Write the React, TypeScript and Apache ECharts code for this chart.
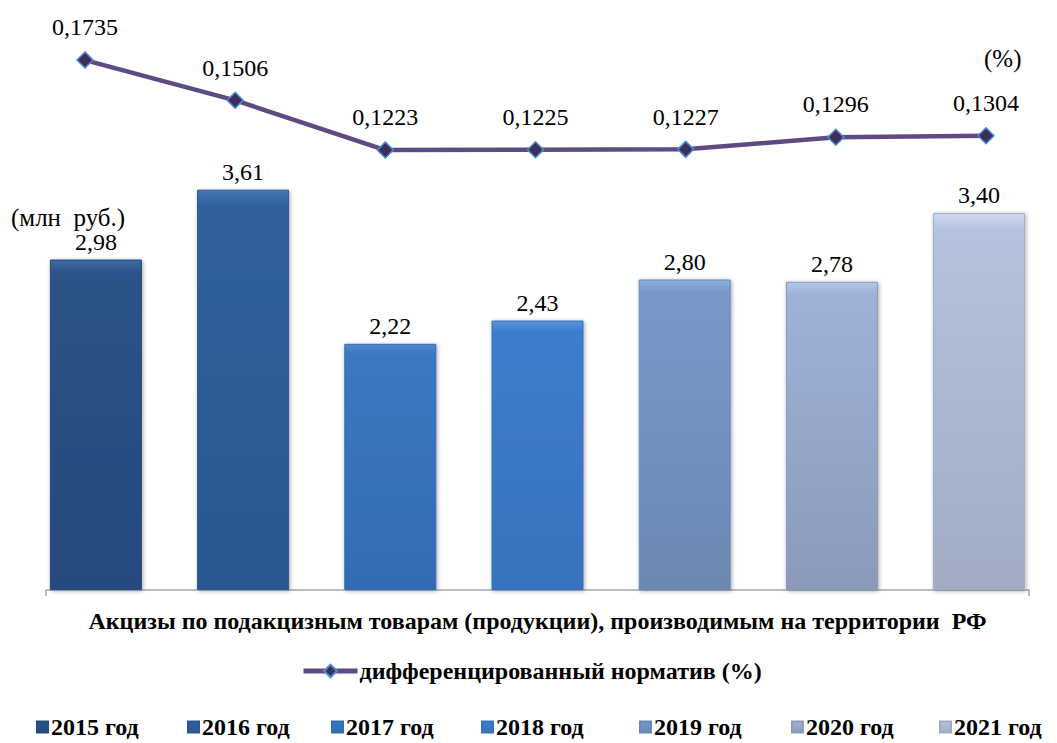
import React, { useEffect, useRef } from "react";
import * as echarts from "echarts";

// Excise revenue by year (million rubles)
const years = ["2015 год", "2016 год", "2017 год", "2018 год", "2019 год", "2020 год", "2021 год"];
const exciseValues = [2.98, 3.61, 2.22, 2.43, 2.8, 2.78, 3.4];
// Differentiated rate (%)
const rateName = "дифференцированный норматив (%)";
const rateValues = [0.1735, 0.1506, 0.1223, 0.1225, 0.1227, 0.1296, 0.1304];
const categoryName = "Акцизы по подакцизным товарам (продукции), производимым на территории  РФ";

// Bar fills per year: top, middle, bottom of the vertical gradient
const barShades = [
  ["#3d69a3", "#2b5387", "#254a7d"],
  ["#4477b6", "#30609d", "#2b578f"],
  ["#5189d0", "#3b78c0", "#336cb0"],
  ["#5894dc", "#3d7dcc", "#3673bc"],
  ["#8cafe0", "#7899c9", "#6b88b2"],
  ["#b4c6e8", "#9fb2d6", "#8b9aba"],
  ["#d0dbf1", "#b6c3de", "#a1acc4"],
];
const legendLeft = [31, 182, 326, 476, 634, 786, 934];

const FONT = "'Liberation Serif', 'Times New Roman', serif";
const fmt = (v: number, d: number) => v.toFixed(d).replace(".", ",");

export default function App() {
  const ref = useRef<HTMLDivElement>(null);

  useEffect(() => {
    if (!ref.current) return;
    const chart = echarts.init(ref.current, undefined, { renderer: "svg" });

    const barSeries = years.map((name, i) => ({
      name,
      type: "bar",
      xAxisIndex: 0,
      yAxisIndex: 0,
      barWidth: 92,
      barGap: "60%",
      data: [exciseValues[i]],
      itemStyle: {
        color: new echarts.graphic.LinearGradient(0, 0, 0, 1, [
          { offset: 0, color: barShades[i][0] },
          { offset: 0.04, color: barShades[i][1] },
          { offset: 1, color: barShades[i][2] },
        ]),
        borderColor: barShades[i][2],
        borderWidth: 1,
        shadowColor: "rgba(0,0,0,0.35)",
        shadowBlur: 4,
        shadowOffsetX: 1,
        shadowOffsetY: 1,
      },
      label: {
        show: true,
        position: "top",
        distance: 6,
        fontFamily: FONT,
        fontSize: 24,
        color: "#000",
        formatter: (p: any) => fmt(p.value, 2),
      },
    }));

    const legends: any[] = years.map((name, i) => ({
      data: [{ name, icon: "rect" }],
      left: legendLeft[i],
      top: 710,
      itemWidth: 11,
      itemHeight: 11,
      itemGap: 0,
      textStyle: { fontFamily: FONT, fontSize: 24, fontWeight: "bold", color: "#000", padding: [0, 0, 0, -2] },
    }));
    legends.push({
      data: [rateName],
      left: 296,
      top: 654,
      itemWidth: 54,
      itemHeight: 16,
      lineStyle: { width: 5 },
      textStyle: { fontFamily: FONT, fontSize: 24, fontWeight: "bold", color: "#000", padding: [0, 0, 0, -3] },
    });

    chart.setOption({
      animation: false,
      backgroundColor: "#fff",
      textStyle: { fontFamily: FONT },
      legend: legends,
      grid: [
        { left: 46, right: 28, top: 30, bottom: 153 },
        { left: 85, right: 71, top: 30, bottom: 153 },
      ],
      xAxis: [
        {
          type: "category",
          gridIndex: 0,
          data: [categoryName],
          axisLine: { lineStyle: { color: "#a6a6a6", width: 1.5 } },
          axisTick: { show: true, length: 6, lineStyle: { color: "#a6a6a6", width: 1.5 } },
          axisLabel: { margin: 19, fontFamily: FONT, fontSize: 24, fontWeight: "bold", color: "#000" },
        },
        {
          type: "category",
          gridIndex: 1,
          boundaryGap: false,
          data: years,
          show: false,
        },
      ],
      yAxis: [
        { type: "value", gridIndex: 0, min: 0, max: 5.05, show: false, splitLine: { show: false } },
        { type: "value", gridIndex: 1, min: -0.128, max: 0.1906, show: false, splitLine: { show: false } },
      ],
      graphic: [
        {
          type: "text",
          left: 11,
          top: 205,
          style: { text: "(млн  руб.)", font: `25px ${FONT}`, fill: "#000" },
        },
        {
          type: "text",
          left: 984,
          top: 46,
          style: { text: "(%)", font: `25px ${FONT}`, fill: "#000" },
        },
      ],
      series: [
        ...barSeries,
        {
          name: rateName,
          type: "line",
          xAxisIndex: 1,
          yAxisIndex: 1,
          data: rateValues,
          symbol: "diamond",
          symbolSize: 16,
          lineStyle: { color: "#5e4b82", width: 4.5 },
          itemStyle: { color: "#3f2f58", borderColor: "#4a8cd4", borderWidth: 1.5 },
          label: {
            show: true,
            position: "top",
            distance: 12,
            fontFamily: FONT,
            fontSize: 24,
            color: "#000",
            formatter: (p: any) => fmt(p.value, 4),
          },
          z: 5,
        },
      ],
    });

    return () => chart.dispose();
  }, []);

  return (
    <div
      ref={ref}
      style={{ position: "absolute", left: 0, top: 0, width: 1057, height: 743, background: "#fff" }}
    />
  );
}
